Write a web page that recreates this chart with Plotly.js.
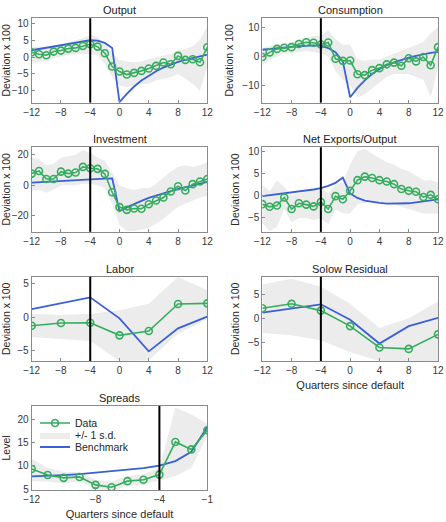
<!DOCTYPE html>
<html>
<head>
<meta charset="utf-8">
<script src="https://cdn.plot.ly/plotly-3.0.1.min.js"></script>
<style>
  html, body { margin: 0; padding: 0; background: #fff; }
  #chart { width: 446px; height: 522px; }
</style>
</head>
<body>
<div id="chart"></div>
<script>
// Quarters around a sovereign default event
const quarters = [-12,-11,-10,-9,-8,-7,-6,-5,-4,-3,-2,-1,0,1,2,3,4,5,6,7,8,9,10,11,12];
const yearQuarters = [-12,-8,-4,0,4,8,12];
const spreadQuarters = [-12,-11,-10,-9,-8,-7,-6,-5,-4,-3,-2,-1];
const defaultQuarter = -4;

// Output
const outputData  = [1.5,0.9,0.6,1.7,2.0,2.6,2.8,3.4,3.9,3.2,1.2,-2.8,-4.3,-5.2,-4.7,-4.1,-3.4,-2.6,-1.6,-2.1,0.4,-0.8,-0.6,-1.5,3.0];
const outputModel = [2.1,2.5,2.9,3.3,3.7,4.1,4.5,4.8,5.1,5.0,4.3,2.8,-13.5,-11.0,-8.8,-7.0,-5.5,-4.2,-3.1,-2.2,-1.4,-0.8,-0.2,0.3,0.8];
const outputHigh  = [3.2,3.0,3.0,3.5,3.8,4.5,5.0,5.7,6.7,6.2,4.2,1.2,-0.8,-1.3,-1.5,-1.3,-0.5,0.0,0.5,1.0,2.2,2.5,3.2,5.2,9.2];
const outputLow   = [-1.5,-1.5,-1.0,-0.2,0.2,0.6,0.8,1.0,1.0,0.5,-2.0,-6.0,-8.5,-9.0,-8.5,-8.0,-8.0,-7.0,-6.5,-6.0,-5.0,-6.5,-8.0,-10.0,-3.0];

// Consumption
const consData  = [-0.2,1.4,2.6,3.0,3.2,4.3,4.9,4.7,4.1,4.8,-0.8,-1.5,-1.4,-6.1,-6.4,-4.7,-4.0,-2.7,-2.1,-3.2,-0.6,-1.7,-0.2,-3.0,3.2];
const consModel = [2.3,2.6,2.9,3.1,3.3,3.5,3.7,3.8,3.7,2.9,1.5,-1.7,-14.0,-10.8,-8.2,-6.0,-4.3,-3.0,-2.0,-1.1,-0.4,0.2,0.8,1.2,1.6];
const consHigh  = [3,3.5,4,4.5,5,6,6.5,7,7,9,6,4,4,-1,-1.5,-1,-1,0,1,2,3,4,5,8,10];
const consLow   = [-3,-1,0,1,1,1.5,2,1.5,1,0,-5,-8,-10,-14,-13,-11,-9,-7,-6,-6,-6,-7,-8,-14,-4];

// Investment
const invData  = [7.6,9.3,4.1,4.1,8.9,7.6,8.3,12.0,11.1,10.7,7.4,-4.6,-14.3,-16.1,-15.2,-15.4,-12.4,-10.0,-8.0,-4.1,-0.7,-3.5,0.7,2.4,4.1];
const invModel = [1.7,2.0,2.3,2.6,2.9,3.2,3.5,3.7,3.9,4.1,4.3,4.5,-17.0,-14.5,-12.2,-10.2,-8.3,-6.7,-5.2,-3.8,-2.6,-1.4,-0.3,1.0,2.2];
const invHigh  = [18,17,13,14,18,19,20,23,21,18,16,8,0,-2,-3,-2,-2,1,5,9,12,13,12,13,15];
const invLow   = [-4,-3,-5,-3,0,0,0,1,1,0,-2,-12,-26,-30,-30,-29,-28,-25,-22,-18,-14,-12,-10,-8,-7];

// Net exports / output
const nxData  = [-1.9,-2.5,-2.2,-0.4,-3.0,-1.7,-2.0,-2.4,-1.4,-3.0,-0.1,-0.8,1.1,3.5,4.3,4.0,3.5,3.2,2.6,1.5,1.1,0.9,-0.3,0.2,-0.8];
const nxModel = [-0.1,0.1,0.3,0.5,0.7,0.9,1.1,1.4,1.7,2.2,2.9,4.1,0.5,-0.5,-1.1,-1.4,-1.6,-1.8,-1.8,-1.8,-1.7,-1.5,-1.3,-1.1,-0.8];
const nxHigh  = [2.5,1.0,3.5,2.0,0.0,0.5,1.0,1.5,2.0,0.5,2.5,3.0,7.0,10.0,10.5,9.5,8.5,7.5,7.0,6.0,5.5,4.5,3.5,3.5,3.0];
const nxLow   = [-6.0,-8.0,-7.0,-3.0,-6.0,-5.0,-5.0,-5.5,-5.0,-6.5,-3.0,-4.0,-4.0,-2.0,-1.5,-1.5,-1.5,-2.0,-2.0,-2.5,-3.0,-3.5,-4.0,-4.0,-4.0];

// Labor (annual)
const laborData  = [-1.3,-0.9,-0.85,-2.75,-2.1,1.95,2.05];
const laborModel = [1.2,2.05,2.95,-0.2,-5.15,-1.7,0.05];
const laborHigh  = [0.5,0.3,0.5,1.0,2.0,6.0,4.0];
const laborLow   = [-3.0,-3.3,-3.6,-6.6,-6.5,-2.5,-0.3];

// Solow residual (annual)
const solowData  = [2.1,3.0,1.6,-1.6,-6.0,-6.3,-3.3];
const solowModel = [1.2,2.0,2.9,-0.3,-5.2,-1.6,0.1];
const solowHigh  = [7.0,8.2,6.5,3.0,-2.0,0.0,3.5];
const solowLow   = [-3.0,-3.5,-4.5,-7.0,-8.8,-8.8,-9.0];

// Spreads (level)
const spreadData  = [9.3,8.0,7.4,7.6,5.9,5.4,6.7,7.0,8.1,15.1,13.5,17.6];
const spreadModel = [7.7,7.8,8.0,8.2,8.5,8.8,9.1,9.5,10.0,11.0,13.0,18.3];
const spreadHigh  = [11.5,9.5,8.7,8.6,7.0,6.6,7.8,8.2,9.5,22.5,21.0,19.0];
const spreadLow   = [6.7,6.6,6.2,6.6,5.0,4.6,5.7,5.9,6.8,7.8,9.5,16.5];

const titles = ['Output','Consumption','Investment','Net Exports/Output','Labor','Solow Residual','Spreads'];
const legendNames = ['Data','+/- 1 s.d.','Benchmark'];
const xLabel = 'Quarters since default';
const devLabel = 'Deviation x 100';
const levelLabel = 'Level';
const quarterTicks = [-12,-8,-4,0,4,8,12];
const spreadTicks = [-12,-8,-4,-1];

const W = 446, H = 522;
const FONT = '"Liberation Sans", Arial, Helvetica, sans-serif';
const GREEN = '#35ad5f';
const BLUE = '#3a5fd6';
const BAND = '#ececec';

// plot-area boxes in pixels: [left, right, top, bottom]
const boxes = [
  [31.7, 207.3, 18.3, 102.5],
  [262.3, 438.0, 18.3, 102.5],
  [31.7, 207.3, 147.0, 231.7],
  [262.3, 438.0, 147.3, 231.7],
  [31.7, 207.3, 276.7, 361.0],
  [262.3, 438.0, 276.7, 361.0],
  [31.7, 207.3, 406.0, 490.0]
];

const panels = [
  {x: quarters, d: outputData, m: outputModel, hi: outputHigh, lo: outputLow, yr: [-13.6, 11.7], yt: [-10,-5,0,5,10], xt: quarterTicks, yl: devLabel},
  {x: quarters, d: consData, m: consModel, hi: consHigh, lo: consLow, yr: [-15.8, 13.1], yt: [-10,0,10], xt: quarterTicks, yl: devLabel},
  {x: quarters, d: invData, m: invModel, hi: invHigh, lo: invLow, yr: [-30.4, 25], yt: [-20,0,20], xt: quarterTicks, yl: devLabel},
  {x: quarters, d: nxData, m: nxModel, hi: nxHigh, lo: nxLow, yr: [-8.1, 10.9], yt: [-5,0,5,10], xt: quarterTicks, yl: devLabel},
  {x: yearQuarters, d: laborData, m: laborModel, hi: laborHigh, lo: laborLow, yr: [-6.6, 6.05], yt: [-5,0,5], xt: quarterTicks, yl: devLabel},
  {x: yearQuarters, d: solowData, m: solowModel, hi: solowHigh, lo: solowLow, yr: [-8.8, 8.6], yt: [-5,0,5], xt: quarterTicks, yl: devLabel, xl: xLabel},
  {x: spreadQuarters, d: spreadData, m: spreadModel, hi: spreadHigh, lo: spreadLow, yr: [4.8, 22.8], yt: [5,10,15,20], xt: spreadTicks, yl: levelLabel, xl: xLabel, legend: true}
];

const traces = [];
const layout = {
  width: W, height: H,
  margin: {l: 0, r: 0, t: 0, b: 0},
  paper_bgcolor: '#fff', plot_bgcolor: 'rgba(0,0,0,0)',
  font: {family: FONT, size: 10, color: '#262626'},
  showlegend: true,
  shapes: [], annotations: []
};

function legendBox(yPix) {
  return {
    x: 35 / W, y: 1 - yPix / H, xanchor: 'left', yanchor: 'middle',
    bgcolor: 'rgba(0,0,0,0)', borderwidth: 0,
    font: {family: FONT, size: 10.5, color: '#262626'},
    itemwidth: 30
  };
}

panels.forEach((p, i) => {
  const n = i + 1;
  const xa = n === 1 ? 'x' : 'x' + n;
  const ya = n === 1 ? 'y' : 'y' + n;
  const b = boxes[i];
  const xKey = n === 1 ? 'xaxis' : 'xaxis' + n;
  const yKey = n === 1 ? 'yaxis' : 'yaxis' + n;

  const axisStyle = {
    showline: true, mirror: true, linecolor: '#8a8a8a', linewidth: 1,
    ticks: 'inside', ticklen: 3, tickcolor: '#8a8a8a', tickwidth: 1,
    showgrid: false, zeroline: false,
    tickfont: {family: FONT, size: 10, color: '#383838'}
  };

  layout[xKey] = Object.assign({}, axisStyle, {
    domain: [b[0] / W, b[1] / W], anchor: ya,
    range: [p.x[0], p.x[p.x.length - 1]],
    tickmode: 'array', tickvals: p.xt
  });
  if (p.xl) layout[xKey].title = {text: p.xl, font: {family: FONT, size: 11, color: '#2a2a2a'}, standoff: 6};

  layout[yKey] = Object.assign({}, axisStyle, {
    domain: [1 - b[3] / H, 1 - b[2] / H], anchor: xa,
    range: p.yr, tickmode: 'array', tickvals: p.yt,
    title: {text: p.yl, font: {family: FONT, size: 10.5, color: '#2a2a2a'}, standoff: 6}
  });

  // shaded +/- 1 s.d. band
  traces.push({
    x: p.x.concat(p.x.slice().reverse()),
    y: p.hi.concat(p.lo.slice().reverse()),
    xaxis: xa, yaxis: ya, type: 'scatter', mode: 'lines',
    fill: 'toself', fillcolor: BAND, line: {width: 0, color: BAND},
    hoverinfo: 'skip', name: legendNames[1],
    showlegend: !!p.legend, legend: 'legend2'
  });
  // benchmark model
  traces.push({
    x: p.x, y: p.m, xaxis: xa, yaxis: ya, type: 'scatter', mode: 'lines',
    line: {color: BLUE, width: 1.8}, name: legendNames[2],
    showlegend: !!p.legend, legend: 'legend3'
  });
  // data
  traces.push({
    x: p.x, y: p.d, xaxis: xa, yaxis: ya, type: 'scatter', mode: 'lines+markers',
    line: {color: GREEN, width: 1.6},
    marker: {symbol: 'circle-open', size: 7, color: GREEN, line: {width: 1.6, color: GREEN}},
    name: legendNames[0], showlegend: !!p.legend, legend: 'legend'
  });

  // default date marker
  layout.shapes.push({
    type: 'line', xref: xa, yref: ya + ' domain',
    x0: defaultQuarter, x1: defaultQuarter, y0: 0, y1: 1,
    line: {color: '#000', width: 2}
  });

  // panel title
  layout.annotations.push({
    text: titles[i], xref: xa + ' domain', yref: ya + ' domain',
    x: 0.5, y: 1, xanchor: 'center', yanchor: 'bottom', yshift: 0,
    showarrow: false, font: {family: FONT, size: 11, color: '#1a1a1a'}
  });
});

layout.legend = legendBox(423);
layout.legend2 = legendBox(435);
layout.legend3 = legendBox(447);

Plotly.newPlot('chart', traces, layout, {displayModeBar: false, staticPlot: true});
</script>
</body>
</html>
